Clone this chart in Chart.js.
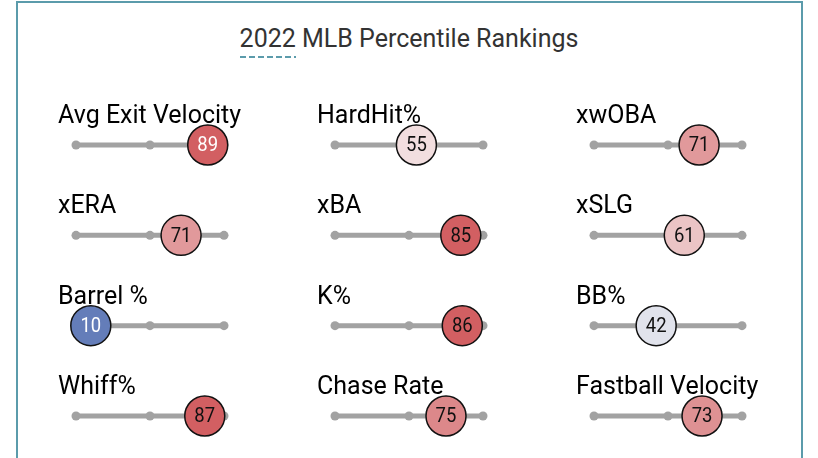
<!DOCTYPE html>
<html>
<head>
<meta charset="utf-8">
<script src="https://cdn.jsdelivr.net/npm/chart.js@4.4.1/dist/chart.umd.min.js"></script>
<style>
  body { margin: 0; background: #fff; }
  #wrap { position: relative; width: 818px; height: 458px; overflow: hidden; }
  #frame { position: absolute; left: 16px; top: 1px; width: 787px; height: 500px;
           border: 2px solid #5b9bab; box-sizing: border-box; }
  #titulo { position: absolute; left: 0; top: 24px; width: 818px; text-align: center;
            font-family: Roboto, sans-serif; font-size: 25px; color: #333; }
  #titulo span { padding-bottom: 5px;
            background-image: repeating-linear-gradient(to right, #5b9bab 0 6px, transparent 6px 9px);
            background-size: 100% 2px; background-repeat: no-repeat; background-position: left bottom; }
  canvas { position: absolute; left: 0; top: 0; }
</style>
</head>
<body>
<div id="wrap">
  <div id="frame"></div>
  <div id="titulo"><span>2022</span> MLB Percentile Rankings</div>
  <canvas id="myChart" width="818" height="458"></canvas>
</div>
<script>
// datos del grafico
const metricas = ['Avg Exit Velocity', 'HardHit%', 'xwOBA',
                  'xERA', 'xBA', 'xSLG',
                  'Barrel %', 'K%', 'BB%',
                  'Whiff%', 'Chase Rate', 'Fastball Velocity'];
const percentiles = [89, 55, 71,
                     71, 85, 61,
                     10, 86, 42,
                     87, 75, 73];
const marcas = [0, 50, 100];

// distribucion de la rejilla
const columnas = 3;
const pxPorUnidad = 1.48;      // 100 percentil = 148 px
const sepColumna = 175;        // unidades entre columnas
const inicioX = 76;            // px donde empieza la primera linea
const sepFila = 90.33;
const inicioY = 145;

function colorPercentil(v) {
  const s = Math.min(1, Math.abs(v - 50) / 35);
  const base = [248, 246, 246];
  const fin = v >= 50 ? [210, 95, 98] : [100, 125, 185];
  const k = v >= 50 ? 0.95 : 1.25;
  const c = base.map((b, i) => Math.round(b + (fin[i] - b) * Math.pow(s, k)));
  return 'rgb(' + c.join(',') + ')';
}

function grafico_percentiles() {
  const ctx = document.getElementById('myChart');

  const pistas = metricas.map((m, i) => {
    const col = i % columnas, fila = Math.floor(i / columnas);
    return {
      type: 'scatter',
      showLine: true,
      data: marcas.map(t => ({ x: col * sepColumna + t, y: fila })),
      borderColor: '#a2a2a2',
      backgroundColor: '#a2a2a2',
      borderWidth: 5,
      pointRadius: 4.5,
      pointBorderWidth: 0,
      order: 2,
      clip: false
    };
  });

  const circulos = {
    type: 'scatter',
    data: percentiles.map((v, i) => ({ x: (i % columnas) * sepColumna + v, y: Math.floor(i / columnas) })),
    backgroundColor: percentiles.map(colorPercentil),
    borderColor: '#111',
    borderWidth: 1.5,
    pointRadius: 20,
    order: 1,
    clip: false
  };

  // textos: nombre de la metrica y valor dentro del circulo
  const textos = {
    id: 'textos',
    afterDatasetsDraw(chart) {
      const c = chart.ctx, sx = chart.scales.x, sy = chart.scales.y;
      c.save();
      metricas.forEach((m, i) => {
        const col = i % columnas, fila = Math.floor(i / columnas);
        c.font = '25px Roboto';
        c.fillStyle = '#000';
        c.textAlign = 'left';
        c.textBaseline = 'alphabetic';
        c.fillText(m, sx.getPixelForValue(col * sepColumna) - 18, sy.getPixelForValue(fila) - 22);

        // numero un poco estrecho, como en la original
        const v = percentiles[i];
        const px = sx.getPixelForValue(col * sepColumna + v), py = sy.getPixelForValue(fila) + 1;
        c.save();
        c.translate(px, py);
        c.scale(0.88, 1);
        c.font = '21px Roboto';
        c.textAlign = 'center';
        c.textBaseline = 'middle';
        c.fillStyle = Math.abs(v - 50) >= 38 ? '#fff' : '#111';
        c.fillText(String(v), 0, 0);
        c.restore();
      });
      c.restore();
    }
  };

  const minX = -inicioX / pxPorUnidad;
  const minY = -inicioY / sepFila;

  new Chart(ctx, {
    type: 'scatter',
    data: { datasets: [circulos, ...pistas] },
    options: {
      responsive: false,
      animation: false,
      layout: { padding: 0, autoPadding: false },
      plugins: { legend: { display: false }, tooltip: { enabled: false }, title: { display: false } },
      scales: {
        x: { type: 'linear', display: false, min: minX, max: minX + 818 / pxPorUnidad },
        y: { type: 'linear', display: false, reverse: true, min: minY, max: minY + 458 / sepFila }
      }
    },
    plugins: [textos]
  });
}

grafico_percentiles()
</script>
</body>
</html>
